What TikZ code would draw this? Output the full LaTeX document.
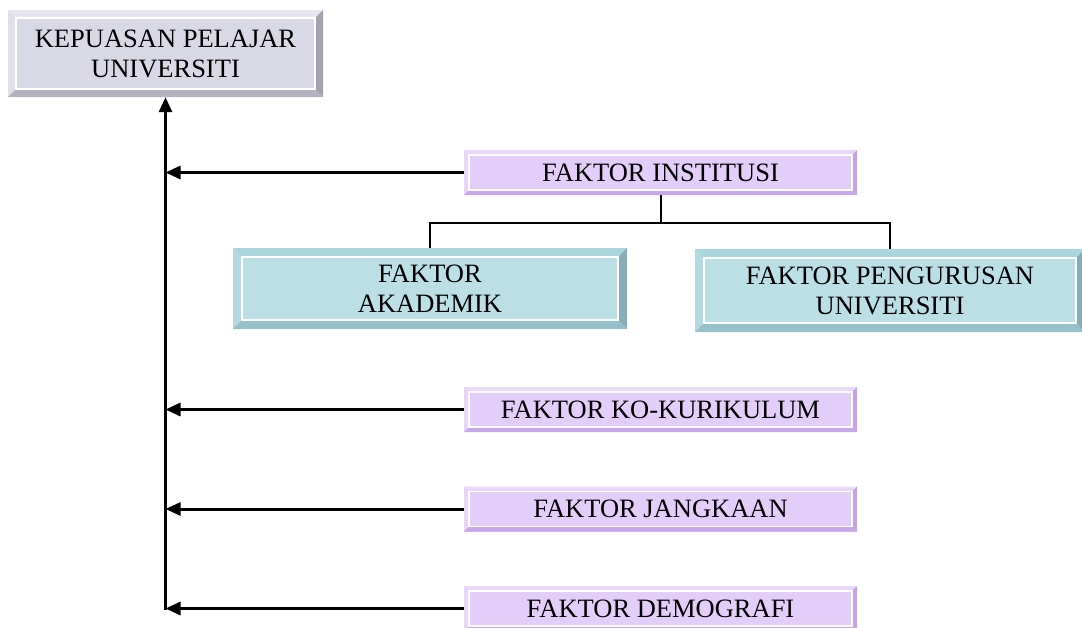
\documentclass[tikz,border=0pt]{standalone}
\usepackage{fontspec}
\setmainfont{Liberation Serif}
\usepackage{tikz}
\usetikzlibrary{arrows.meta}
\usepackage{xcolor}

\definecolor{grayface}{HTML}{D9D9E5}
\definecolor{graytop}{HTML}{E6E6EE}
\definecolor{grayleft}{HTML}{E0E0EA}
\definecolor{grayright}{HTML}{A3A3B0}
\definecolor{graybot}{HTML}{B3B3C0}
\definecolor{lavface}{HTML}{E2CEF8}
\definecolor{lavtop}{HTML}{E9D8FB}
\definecolor{lavleft}{HTML}{E6D4FA}
\definecolor{lavright}{HTML}{C4A4E4}
\definecolor{lavbot}{HTML}{C8A8EA}
\definecolor{tealface}{HTML}{BBDFE5}
\definecolor{tealtop}{HTML}{A9D6DD}
\definecolor{tealleft}{HTML}{B3DAE1}
\definecolor{tealright}{HTML}{87AEB7}
\definecolor{tealbot}{HTML}{95C0C9}

\tikzset{
  bevel/.style 2 args={fill=#1face, inner sep=0pt, align=center,
    font=\fontsize{26.5pt}{30pt}\selectfont,
    path picture={
      \fill[#1top] (path picture bounding box.north west) -- (path picture bounding box.north east)
        -- ([shift={(-#2,-#2)}]path picture bounding box.north east)
        -- ([shift={(#2,-#2)}]path picture bounding box.north west) -- cycle;
      \fill[#1left] (path picture bounding box.north west) -- ([shift={(#2,-#2)}]path picture bounding box.north west)
        -- ([shift={(#2,#2)}]path picture bounding box.south west)
        -- (path picture bounding box.south west) -- cycle;
      \fill[#1right] (path picture bounding box.north east) -- (path picture bounding box.south east)
        -- ([shift={(-#2,#2)}]path picture bounding box.south east)
        -- ([shift={(-#2,-#2)}]path picture bounding box.north east) -- cycle;
      \fill[#1bot] (path picture bounding box.south west) -- (path picture bounding box.south east)
        -- ([shift={(-#2,#2)}]path picture bounding box.south east)
        -- ([shift={(#2,#2)}]path picture bounding box.south west) -- cycle;
      \draw[white, line width=1.2pt] ([shift={(#2,-#2)}]path picture bounding box.north west)
        rectangle ([shift={(-#2,#2)}]path picture bounding box.south east);
    }},
  mainbox/.style={bevel={gray}{8pt}, minimum width=315pt, minimum height=87pt},
  factor/.style={bevel={lav}{5pt}, minimum width=393pt, minimum height=45pt},
  subfactor/.style={bevel={teal}{9pt}, minimum width=394pt, minimum height=81pt},
  link/.style={-{Triangle[length=15pt,width=13pt]}, line width=3pt},
  branch/.style={line width=2pt}
}

\begin{document}
\begin{tikzpicture}[x=1pt, y=-1pt]
  \useasboundingbox (0,0) rectangle (1082,627);
  \clip (0,0) rectangle (1082,627);
  % Boxes
  \node[mainbox] (kepuasan) at (165.5,53.5) {KEPUASAN PELAJAR\\UNIVERSITI};
  \node[factor] (institusi) at (660.5,172.5) {FAKTOR INSTITUSI};
  \node[subfactor] (akademik) at (430,288.5) {FAKTOR\\AKADEMIK};
  \node[subfactor, minimum width=390pt, minimum height=83pt] (pengurusan) at (890,290.5) {FAKTOR PENGURUSAN\\UNIVERSITI};
  \node[factor] (kokurikulum) at (660.5,409.5) {FAKTOR KO-KURIKULUM};
  \node[factor] (jangkaan) at (660.5,509) {FAKTOR JANGKAAN};
  \node[factor] (demografi) at (660.5,608.5) {FAKTOR DEMOGRAFI};
  % Main spine
  \coordinate (spine) at (165.5,609.5);
  \draw[link] (spine) -- (kepuasan.south);
  % Arrows into the spine
  \foreach \f in {institusi, kokurikulum, jangkaan, demografi} {
    \draw[link] (\f.west) -- (\f.west -| spine);
  }
  % Institution branches
  \draw[branch] (institusi.south) -- ++(0,28) coordinate (fork);
  \draw[branch] (akademik.north) |- (fork) -| (pengurusan.north);
\end{tikzpicture}
\end{document}
